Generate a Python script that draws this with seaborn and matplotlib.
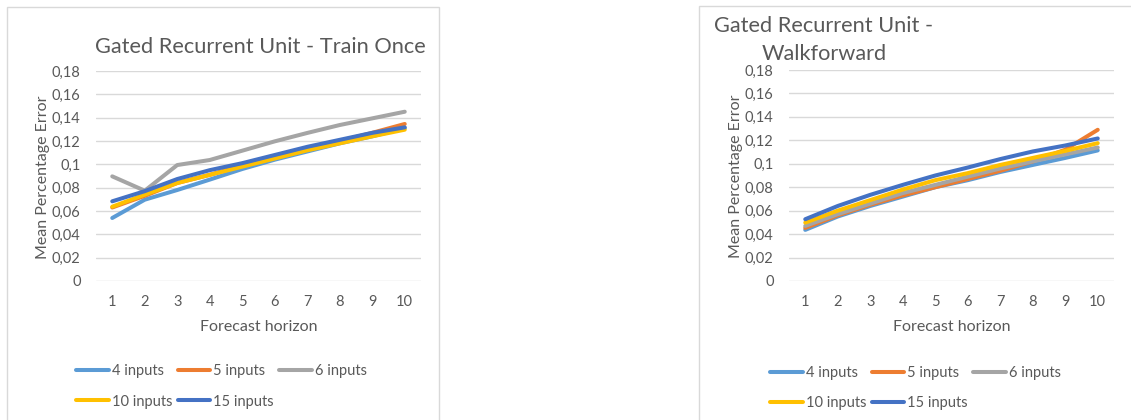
import pandas as pd
import seaborn as sns
import matplotlib
import matplotlib.pyplot as plt
from matplotlib.patches import Rectangle
matplotlib.use('Agg')

sns.set_theme(style="white")
plt.rcParams['font.family'] = ['Lato', 'DejaVu Sans']

# data
horizon = [1, 2, 3, 4, 5, 6, 7, 8, 9, 10]
series = ['4 inputs', '5 inputs', '6 inputs', '10 inputs', '15 inputs']
colors = ['#5B9BD5', '#ED7D31', '#A5A5A5', '#FFC000', '#4472C4']

once_4 = [0.054, 0.0697, 0.078, 0.0869, 0.096, 0.104, 0.111, 0.118, 0.124, 0.131]
once_5 = [0.063, 0.073, 0.084, 0.091, 0.099, 0.107, 0.114, 0.120, 0.127, 0.1346]
once_6 = [0.0897, 0.0774, 0.0994, 0.1037, 0.1117, 0.1197, 0.1269, 0.1337, 0.1394, 0.1451]
once_10 = [0.0637, 0.074, 0.084, 0.091, 0.098, 0.105, 0.112, 0.118, 0.124, 0.1297]
once_15 = [0.0683, 0.077, 0.0874, 0.095, 0.101, 0.108, 0.115, 0.121, 0.127, 0.1317]

walk_4 = [0.0436, 0.055, 0.064, 0.072, 0.080, 0.086, 0.093, 0.099, 0.105, 0.1114]
walk_5 = [0.0453, 0.056, 0.065, 0.073, 0.080, 0.087, 0.094, 0.102, 0.112, 0.129]
walk_6 = [0.047, 0.057, 0.066, 0.075, 0.082, 0.089, 0.096, 0.102, 0.108, 0.1139]
walk_10 = [0.0498, 0.060, 0.069, 0.078, 0.086, 0.092, 0.099, 0.105, 0.111, 0.1176]
walk_15 = [0.0527, 0.064, 0.0735, 0.082, 0.090, 0.0968, 0.104, 0.1105, 0.1156, 0.1216]

yticks = [0, 0.02, 0.04, 0.06, 0.08, 0.10, 0.12, 0.14, 0.16, 0.18]
ytick_labels = ['0', '0,02', '0,04', '0,06', '0,08', '0,1', '0,12', '0,14', '0,16', '0,18']

txt = '#595959'
grid = '#D9D9D9'


def long_df(cols):
    parts = []
    for name, vals in zip(series, cols):
        parts.append(pd.DataFrame({'horizon': horizon, 'mpe': vals, 'series': name}))
    return pd.concat(parts, ignore_index=True)


fig = plt.figure(figsize=(11.31, 4.2), dpi=100)
W, H = 1131, 420

# chart frames
fig.patches.append(Rectangle((7 / W, -0.05), 432 / W, 1 - 7 / H + 0.05, transform=fig.transFigure,
                             fill=False, edgecolor=grid, linewidth=1))
fig.patches.append(Rectangle((699 / W, -0.05), 1.0, 1 - 6 / H + 0.05, transform=fig.transFigure,
                             fill=False, edgecolor=grid, linewidth=1))

axes = [fig.add_axes([96 / W, 139 / H, 325 / W, 210 / H]),
        fig.add_axes([789 / W, 139 / H, 325 / W, 211 / H])]
datasets = [[once_4, once_5, once_6, once_10, once_15],
            [walk_4, walk_5, walk_6, walk_10, walk_15]]
palette = dict(zip(series, colors))
legend_centers = [(221.5, 386.5), (915.5, 387.5)]
left_px = [96, 789]

for ax, cols, (lx, ly), x0 in zip(axes, datasets, legend_centers, left_px):
    df = long_df(cols)
    sns.lineplot(data=df, x='horizon', y='mpe', hue='series', hue_order=series,
                 palette=palette, linewidth=2.9, ax=ax, legend=False,
                 solid_capstyle='round')
    ax.set_xlim(0.5, 10.5)
    ax.set_ylim(0, 0.18)
    ax.set_yticks(yticks)
    ax.set_yticklabels(ytick_labels)
    ax.set_xticks(horizon)
    ax.set_xticklabels([str(h) for h in horizon])
    ax.yaxis.grid(True, color=grid, linewidth=1)
    ax.set_axisbelow(True)
    for s in ax.spines.values():
        s.set_visible(False)
    ax.tick_params(axis='both', length=0, colors=txt, labelsize=10.5)
    ax.tick_params(axis='y', pad=11)
    ax.tick_params(axis='x', pad=10)
    ax.set_xlabel('Forecast horizon', color=txt, fontsize=11.5)
    ax.set_ylabel('Mean Percentage Error', color=txt, fontsize=11.5)
    ax.yaxis.set_label_coords(-0.142, 0.495)
    ax.xaxis.set_label_coords(0.5, -0.186)

    # legend filled row by row like the original
    handles = ax.lines[:len(series)]
    order = [0, 3, 1, 4, 2]
    leg = ax.legend([handles[i] for i in order], [series[i] for i in order],
                    ncol=3, frameon=False, loc='center',
                    bbox_to_anchor=((lx - x0) / 325, (281 - ly) / 210),
                    fontsize=10.5, handlelength=2.25, handletextpad=0.2,
                    columnspacing=0.35, labelspacing=1.1)
    for t in leg.get_texts():
        t.set_color(txt)

fig.text(260 / W, 1 - 47 / H, 'Gated Recurrent Unit - Train Once', ha='center', va='center',
         color=txt, fontsize=15.7)
fig.text(824 / W, 1 - 40 / H, 'Gated Recurrent Unit -\nWalkforward', ha='center', va='center',
         multialignment='center', color=txt, fontsize=15.7, linespacing=1.5)

fig.savefig('out.png', dpi=100, facecolor='white')
